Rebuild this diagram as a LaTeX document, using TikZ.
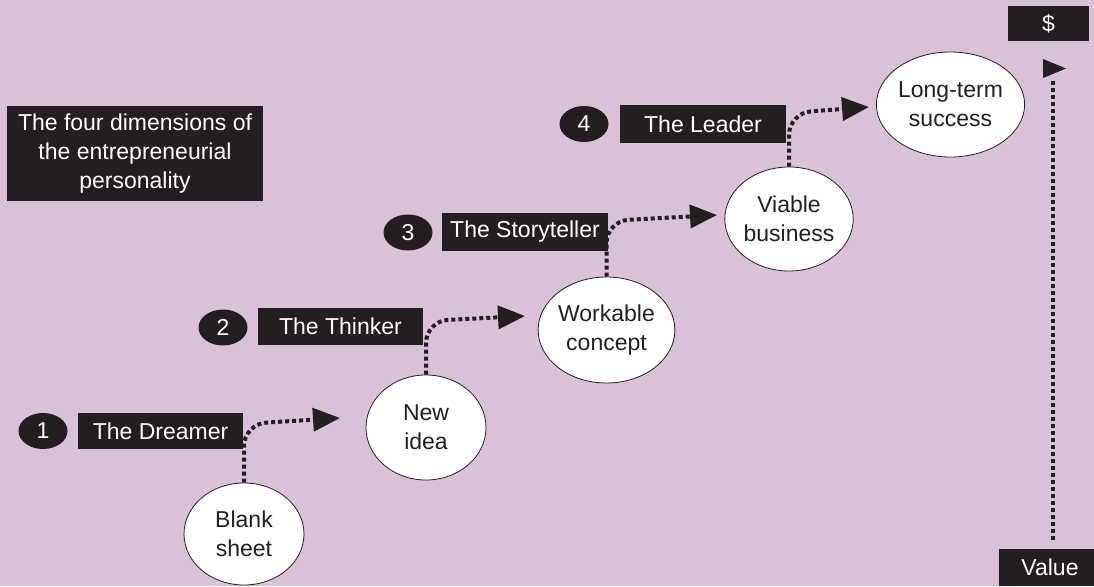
\documentclass[tikz,border=0pt]{standalone}
\usepackage{fontspec}
\setmainfont{Liberation Sans}
\usetikzlibrary{shapes.geometric,arrows.meta}
\definecolor{lilac}{RGB}{217,194,216}
\definecolor{ink}{RGB}{35,31,32}
\begin{document}
\begin{tikzpicture}[x=1pt,y=-1pt,
  every node/.style={font=\fontsize{23}{29}\selectfont, inner sep=0pt},
  darkbox/.style={fill=ink, text=white, minimum width=#1},
  numdot/.style={ellipse, fill=ink, text=white, minimum width=49pt, minimum height=36pt},
  stage/.style={ellipse, draw=ink, line width=0.8pt, fill=white, text=ink, align=center},
  flow/.style={draw=ink, line width=4pt, dash pattern=on 4pt off 3pt, rounded corners=22pt,
    -{Triangle[length=27pt,width=23pt]}},
]
% background
\fill[lilac] (0,0) rectangle (1094,586);
\useasboundingbox (0,0) rectangle (1094,586);

% title
\node[darkbox=256pt, minimum height=95pt, align=center] (title) at (135,153.5)
  {The four dimensions of\\the entrepreneurial\\personality};

% stage labels
\node[numdot] (n1) at (43,431) {1};
\node[darkbox=165pt, minimum height=36pt] (dreamer) at (160.5,431) {The Dreamer};
\node[numdot] (n2) at (223,327.5) {2};
\node[darkbox=165pt, minimum height=37pt] (thinker) at (340.5,326.5) {The Thinker};
\node[numdot] (n3) at (408,232.5) {3};
\node[darkbox=166pt, minimum height=38pt] (storyteller) at (525,232) {The Storyteller};
\node[numdot] (n4) at (584,124) {4};
\node[darkbox=166pt, minimum height=38pt] (leader) at (703,124) {The Leader};

% stages of value creation
\node[stage, minimum width=120pt, minimum height=102pt] (blank) at (244,534) {Blank\\sheet};
\node[stage, minimum width=120pt, minimum height=105pt] (idea) at (426,427.5) {New\\idea};
\node[stage, minimum width=121pt, minimum height=106pt] (concept) at (606.5,330) {Workable\\concept};
\node[stage, minimum width=120pt, minimum height=104pt] (business) at (789,219) {Viable\\business};
\node[stage, minimum width=133pt, minimum height=105pt] (success) at (950.5,104.5) {Long-term\\success};

% value axis labels
\node[darkbox=81pt, minimum height=35pt] (dollar) at (1048.5,23.5) {\$};
\node[darkbox=95pt, minimum height=37pt] (value) at (1046.5,567.5) {\hspace{7pt}Value};

% arrow tips
\coordinate (t1) at (340,418);
\coordinate (t2) at (525,316);
\coordinate (t3) at (717,215);
\coordinate (t4) at (869,107);
\coordinate (vtop) at (1053,80);

% steps from one stage to the next
\draw[flow] (blank.north) -- (244,424) -- (t1);
\draw[flow] (idea.north) -- (426,321) -- (t2);
\draw[flow] (concept.north) -- (606.5,221) -- (t3);
\draw[flow] (business.north) -- (789,113) -- (t4);

% value axis
\draw[draw=ink, line width=4pt, dash pattern=on 4pt off 3pt] ([yshift=9pt]value.north -| vtop) -- (vtop);
\fill[ink] (1043,59) -- (1066,68.5) -- (1043,78) -- cycle;
\end{tikzpicture}
\end{document}
